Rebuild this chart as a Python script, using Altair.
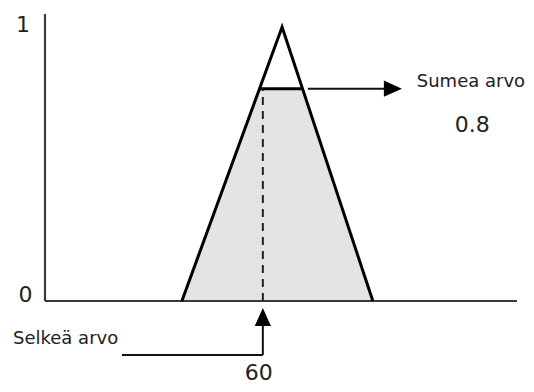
import altair as alt
import pandas as pd

# ---- values (data units) ----
tri_x = [37.7, 65.3, 90.3]          # triangle membership function corners
tri_y = [0.0, 1.0, 0.0]
clip_level = 0.775                 # drawn level of the fuzzy value (labelled 0.8)
crisp_value = 60                   # crisp value
x_axis_end = 130
y_axis_top = 1.047
right_arrow_x = [72.4, 98.3]       # arrow to "Sumea arvo"
up_arrow_y = [-0.197, -0.0255]     # arrow up to the crisp value
bottom_line_x = [21.2, 60]         # line under "Selkeä arvo"

word_labels = ["Selkeä arvo", "Sumea arvo"]
word_x = [-8.81, 102.4]
word_y = [-0.157, 0.781]

num_labels = ["1", "0", "60", "0.8"]
num_x = [-6.06, -5.37, 58.9, 117.7]
num_y = [0.982, -0.004, -0.288, 0.617]

# ---- derived geometry ----
def x_at(level, x0, x1):
    return x0 + level * (x1 - x0)

clip_left = x_at(clip_level, tri_x[0], tri_x[1])
clip_right = x_at(clip_level, tri_x[2], tri_x[1])

fill_df = pd.DataFrame({"x": [tri_x[0], clip_left, clip_right, tri_x[2]],
                        "y": [0, clip_level, clip_level, 0]})
tri_df = pd.DataFrame({"x": tri_x, "y": tri_y, "o": [0, 1, 2]})

XS = alt.Scale(domain=[-10.19, 132.48], nice=False, zero=False)
YS = alt.Scale(domain=[-0.303, 1.0693], nice=False, zero=False)

def X(f="x"):
    return alt.X(f + ":Q", scale=XS, axis=None)

def Y(f="y"):
    return alt.Y(f + ":Q", scale=YS, axis=None)

fill = alt.Chart(fill_df).mark_area(color="#e4e4e4", opacity=1).encode(
    x=X(), y=Y(), y2=alt.datum(0))

axes_df = pd.DataFrame({"x": [0, 0], "x2": [0, x_axis_end],
                        "y": [0, 0], "y2": [y_axis_top, 0]})
axes = alt.Chart(axes_df).mark_rule(color="#3a3a3a", strokeWidth=2.2).encode(
    x=X(), x2="x2:Q", y=Y(), y2="y2:Q")

tri = alt.Chart(tri_df).mark_line(color="black", strokeWidth=3,
                                  strokeJoin="miter").encode(
    x=X(), y=Y(), order="o:Q")

clip_df = pd.DataFrame({"x": [clip_left], "x2": [clip_right],
                        "y": [clip_level], "y2": [clip_level]})
clip = alt.Chart(clip_df).mark_rule(color="black", strokeWidth=3).encode(
    x=X(), x2="x2:Q", y=Y(), y2="y2:Q")

dash_df = pd.DataFrame({"x": [crisp_value], "x2": [crisp_value],
                        "y": [0], "y2": [clip_level]})
dash = alt.Chart(dash_df).mark_rule(color="#222", strokeWidth=2,
                                    strokeDash=[8, 6]).encode(
    x=X(), x2="x2:Q", y=Y(), y2="y2:Q")

shaft_df = pd.DataFrame({
    "x": [right_arrow_x[0], crisp_value, bottom_line_x[0]],
    "x2": [right_arrow_x[1] - 2, crisp_value, bottom_line_x[1]],
    "y": [clip_level, up_arrow_y[0], up_arrow_y[0]],
    "y2": [clip_level, up_arrow_y[1] - 0.02, up_arrow_y[0]]})
shafts = alt.Chart(shaft_df).mark_rule(color="#111", strokeWidth=2).encode(
    x=X(), x2="x2:Q", y=Y(), y2="y2:Q")

head_r_df = pd.DataFrame({"x": [right_arrow_x[1]], "y": [clip_level]})
head_r = alt.Chart(head_r_df).mark_point(
    shape="M0,0L-2,-0.9L-2,0.9Z", filled=True, size=324, color="black",
    opacity=1).encode(x=X(), y=Y())

head_u_df = pd.DataFrame({"x": [crisp_value], "y": [up_arrow_y[1]]})
head_u = alt.Chart(head_u_df).mark_point(
    shape="M0,0L-0.9,2L0.9,2Z", filled=True, size=324, color="black",
    opacity=1).encode(x=X(), y=Y())

words_df = pd.DataFrame({"x": word_x, "y": word_y, "t": word_labels})
words = alt.Chart(words_df).mark_text(
    align="left", baseline="alphabetic", font="DejaVu Sans", fontSize=18,
    color="#222").encode(x=X(), y=Y(), text="t:N")

nums_df = pd.DataFrame({"x": num_x, "y": num_y, "t": num_labels})
nums = alt.Chart(nums_df).mark_text(
    align="center", baseline="alphabetic", font="DejaVu Sans", fontSize=22,
    color="#222").encode(x=X(), y=Y(), text="t:N")

chart = alt.layer(fill, axes, tri, clip, dash, shafts, head_r, head_u,
                  words, nums).properties(
    width=518, height=376, padding=0,
    autosize=alt.AutoSizeParams(type="none")
).configure_view(stroke=None)

chart.save("out.html", embed_options={"renderer": "svg", "actions": False})
